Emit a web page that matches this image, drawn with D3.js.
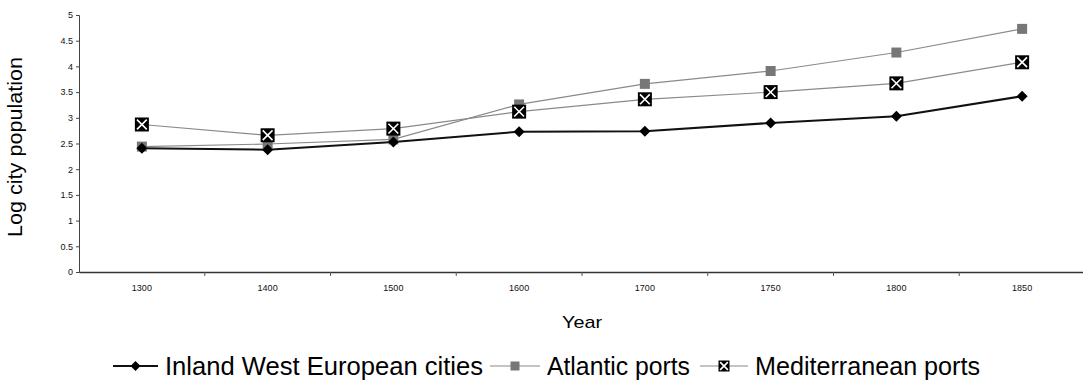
<!DOCTYPE html>
<html><head><meta charset="utf-8">
<script src="https://cdn.jsdelivr.net/npm/d3@7"></script>
<style>body{margin:0;background:#fff}svg{display:block}text{font-family:"Liberation Sans",Arial,sans-serif}</style>
</head><body><svg id="c" width="1083" height="383"></svg>
<script>
const years = ["1300","1400","1500","1600","1700","1750","1800","1850"];
const inland = [2.41, 2.38, 2.53, 2.73, 2.74, 2.90, 3.03, 3.42];
const atlantic = [2.44, 2.49, 2.58, 3.26, 3.66, 3.91, 4.27, 4.73];
const mediterranean = [2.87, 2.66, 2.79, 3.12, 3.36, 3.50, 3.67, 4.08];
const yTicks = [0,0.5,1,1.5,2,2.5,3,3.5,4,4.5,5];
const seriesNames = ["Inland West European cities","Atlantic ports","Mediterranean ports"];

const svg = d3.select("#c");
const x = d3.scaleBand().domain(years).range([79, 1085]);
const y = d3.scaleLinear().domain([0,5]).range([272, 15]);

const ya = svg.append("g").attr("transform","translate(79,0)")
  .call(d3.axisLeft(y).tickValues(yTicks).tickFormat(d3.format("")).tickSize(3).tickPadding(3));
ya.select(".domain").attr("stroke","#444").attr("stroke-width",1);
ya.selectAll(".tick line").attr("stroke","#444");
ya.selectAll("text").attr("font-size",9).attr("fill","#111");

const xa = svg.append("g").attr("transform","translate(0,272)")
  .call(d3.axisBottom(x).tickSize(0).tickPadding(13));
xa.select(".domain").attr("stroke","#333").attr("stroke-width",1.3);
xa.selectAll("text").attr("font-size",9).attr("fill","#111");
const bounds = years.slice(1).map(d => x(d));
svg.append("g").selectAll("line").data(bounds).join("line")
  .attr("x1",d=>d).attr("x2",d=>d).attr("y1",272).attr("y2",276)
  .attr("stroke","#555").attr("stroke-width",1);

const cx = d => x(d) + x.bandwidth()/2;
const line = d3.line().x(d=>cx(d.year)).y(d=>y(d.v));
const mk = arr => years.map((yr,i)=>({year:yr, v:arr[i]}));

svg.append("path").datum(mk(atlantic)).attr("d",line).attr("fill","none").attr("stroke","#8a8a8a").attr("stroke-width",1.2);
svg.append("path").datum(mk(mediterranean)).attr("d",line).attr("fill","none").attr("stroke","#8a8a8a").attr("stroke-width",1.2);
svg.append("path").datum(mk(inland)).attr("d",line).attr("fill","none").attr("stroke","#111").attr("stroke-width",2);

function diamond(g, px, py, s){
  g.append("path").attr("d",`M${px},${py-s}L${px+s},${py}L${px},${py+s}L${px-s},${py}Z`).attr("fill","#000");
}
function greySq(g, px, py, s){
  g.append("rect").attr("x",px-s).attr("y",py-s).attr("width",2*s).attr("height",2*s).attr("fill","#777");
}
function xSq(g, px, py, s){
  g.append("rect").attr("x",px-s).attr("y",py-s).attr("width",2*s).attr("height",2*s).attr("fill","#000");
  const k = s*0.7;
  g.append("path").attr("d",`M${px-k},${py-k}L${px+k},${py+k}M${px+k},${py-k}L${px-k},${py+k}`).attr("stroke","#fff").attr("stroke-width",1.6);
}
const mg = svg.append("g");
mk(atlantic).forEach(d=>greySq(mg, cx(d.year), y(d.v), 5));
mk(mediterranean).forEach(d=>xSq(mg, cx(d.year), y(d.v), 7));
mk(inland).forEach(d=>diamond(mg, cx(d.year), y(d.v), 5.5));

svg.append("text").attr("x",582).attr("y",328).attr("text-anchor","middle").attr("font-size",17)
  .attr("textLength",40).attr("lengthAdjust","spacingAndGlyphs").text("Year");
svg.append("text").attr("transform","translate(22,147) rotate(-90)").attr("text-anchor","middle").attr("font-size",20)
  .attr("textLength",180).attr("lengthAdjust","spacingAndGlyphs").text("Log city population");

// legend
const lg = svg.append("g");
const ly = 366;
const legendPos = [
  {x0:113, x1:158, tx:165, tw:318},
  {x0:490, x1:540, tx:547, tw:143},
  {x0:700, x1:748, tx:755, tw:225}
];
const styles = [
  {draw:(g,px)=>diamond(g,px,ly,5), col:"#111", w:2},
  {draw:(g,px)=>greySq(g,px,ly,4.5), col:"#8a8a8a", w:1.2},
  {draw:(g,px)=>xSq(g,px,ly,5.5), col:"#8a8a8a", w:1.2}
];
seriesNames.forEach((name,i)=>{
  const st = styles[i], p = legendPos[i];
  lg.append("line").attr("x1",p.x0).attr("x2",p.x1).attr("y1",ly).attr("y2",ly).attr("stroke",st.col).attr("stroke-width",st.w);
  st.draw(lg, (p.x0+p.x1)/2);
  lg.append("text").attr("x",p.tx).attr("y",ly+9).attr("font-size",25)
    .attr("textLength",p.tw).attr("lengthAdjust","spacingAndGlyphs").text(name);
});
</script></body></html>
